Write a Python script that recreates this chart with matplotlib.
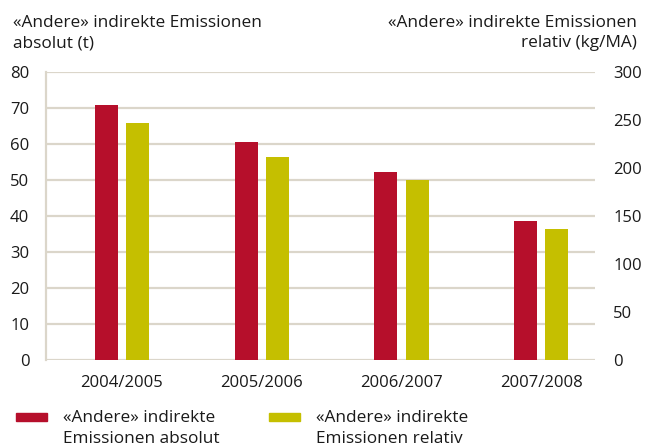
#!/usr/bin/env python3

import numpy as np
from matplotlib import pyplot as plt
from matplotlib.patches import Rectangle

YEARS = ['2004/2005', '2005/2006', '2006/2007', '2007/2008']
ABSOLUT_T = [70.8, 60.6, 52.2, 38.6]
RELATIV_KG_MA = [246.5, 211.5, 187.5, 136.5]

TITLE_ABS = ['«Andere» indirekte Emissionen', 'absolut (t)']
TITLE_REL = ['«Andere» indirekte Emissionen', 'relativ (kg/MA)']
LABEL_ABS = ['«Andere» indirekte', 'Emissionen absolut']
LABEL_REL = ['«Andere» indirekte', 'Emissionen relativ']

RED = '#b60f2b'
YELLOW = '#c5bf00'
GRID = '#dbd6ca'
TEXT = '#1a1a1a'

W, H = 653, 446

plt.rcParams['font.family'] = ['Open Sans', 'DejaVu Sans']
plt.rcParams['text.color'] = TEXT


def px(x, y):
  return x / W, 1 - y / H


def lines(fig, x, baselines, texts, ha, size):
  for y, t in zip(baselines, texts):
    fig.text(*px(x, y), t, ha=ha, va='baseline', fontsize=size)


def main():
  fig = plt.figure(figsize=(W / 100, H / 100), dpi=100)
  ax = fig.add_axes([46 / W, 1 - 360 / H, (595 - 46) / W, 288 / H])
  ax2 = ax.twinx()

  x = np.arange(len(YEARS))
  width = 0.165
  ax.bar(x - 0.112, ABSOLUT_T, width, color=RED, zorder=3)
  ax2.bar(x + 0.112, RELATIV_KG_MA, width, color=YELLOW, zorder=3)

  ax.set_xlim(-0.544, 3.386)
  ax.set_ylim(0, 80)
  ax.set_yticks(np.arange(0, 81, 10))
  ax2.set_ylim(0, 300)
  ax2.set_yticks(np.arange(0, 301, 50))

  ax.set_xticks(x)
  ax.set_xticklabels(YEARS)
  ax.grid(axis='y', color=GRID, linewidth=1.6, zorder=0)
  ax.set_axisbelow(True)

  for a in (ax, ax2):
    for side in ['top', 'right', 'bottom', 'left']:
      a.spines[side].set_visible(False)
    a.tick_params(length=0, labelsize=12, labelcolor=TEXT)
  ax.spines['left'].set_visible(True)
  ax.spines['left'].set_color(GRID)
  ax.spines['left'].set_linewidth(1.6)
  ax.tick_params(axis='y', pad=12)
  ax.tick_params(axis='x', pad=11)
  ax2.tick_params(axis='y', pad=13)

  lines(fig, 13, [27, 47], TITLE_ABS, 'left', 12.4)
  lines(fig, 637, [27, 47], TITLE_REL, 'right', 12.4)

  # legend swatches with two-line labels next to them
  for x0, color, label in [(16, RED, LABEL_ABS), (269, YELLOW, LABEL_REL)]:
    fig.patches.append(Rectangle(px(x0, 421), 31 / W, 8 / H,
                                 transform=fig.transFigure, color=color))
    lines(fig, x0 + 47, [422, 443], label, 'left', 12.4)

  fig.savefig('out.png', dpi=100)
  plt.close()


if __name__ == "__main__":
  main()
